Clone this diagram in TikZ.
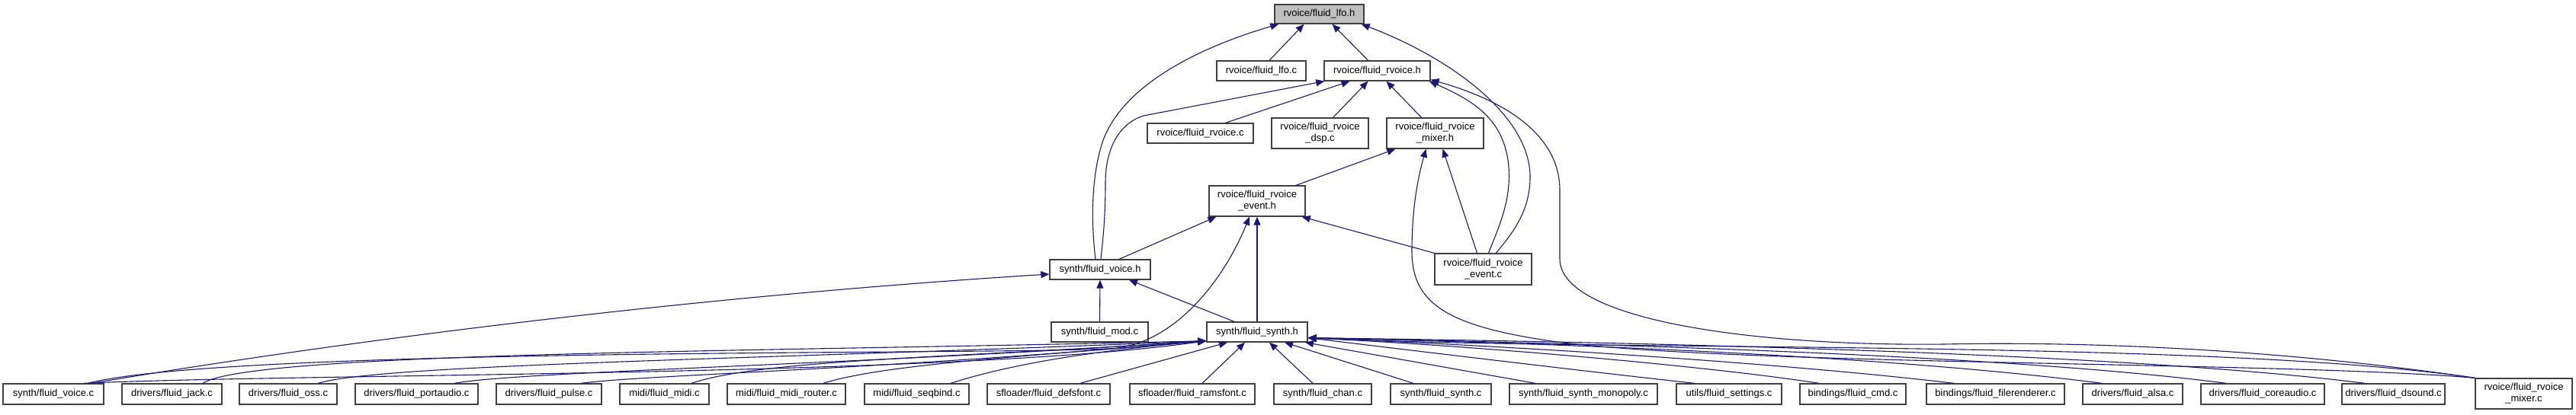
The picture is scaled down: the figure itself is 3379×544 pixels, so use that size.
\documentclass[tikz,border=0pt]{standalone}
\usepackage{fontspec}
\setmainfont{Liberation Sans}
\usetikzlibrary{arrows.meta}
\definecolor{edgeblue}{RGB}{25,25,112}
\definecolor{boxline}{RGB}{64,64,64}
\definecolor{lfogray}{RGB}{191,191,191}
\begin{document}
\begin{tikzpicture}[x=1pt,y=-1pt,
  box/.style={draw=boxline, line width=1.3pt, fill=white, inner sep=0pt, align=center,
    font=\fontsize{13}{15}\selectfont},
  bot/.style={box, minimum height=27pt},
  edge/.style={draw=edgeblue, line width=1.1pt, -{Triangle[length=11pt,width=9pt]}}]
\useasboundingbox (0,0) rectangle (3379,544);

% ---------- nodes ----------
\node[box, fill=lfogray, minimum width=117pt, minimum height=25pt] (lfoh) at (1730.5,18.5) {rvoice/fluid\_lfo.h};
\node[box, minimum width=117pt, minimum height=26pt] (lfoc) at (1654.5,93) {rvoice/fluid\_lfo.c};
\node[box, minimum width=139pt, minimum height=26pt] (rvoiceh) at (1806.5,93) {rvoice/fluid\_rvoice.h};
\node[box, minimum width=139pt, minimum height=26pt] (rvoicec) at (1574.5,175) {rvoice/fluid\_rvoice.c};
\node[box, minimum width=127pt, minimum height=40pt] (dspc) at (1731.5,175) {rvoice/fluid\_rvoice\\\_dsp.c};
\node[box, minimum width=127pt, minimum height=40pt] (mixerh) at (1882.5,175) {rvoice/fluid\_rvoice\\\_mixer.h};
\node[box, minimum width=126pt, minimum height=40pt] (eventh) at (1649,264) {rvoice/fluid\_rvoice\\\_event.h};
\node[box, minimum width=132pt, minimum height=26pt] (voiceh) at (1443,354) {synth/fluid\_voice.h};
\node[box, minimum width=127pt, minimum height=41pt] (eventc) at (1945.5,353.5) {rvoice/fluid\_rvoice\\\_event.c};
\node[box, minimum width=127pt, minimum height=26pt] (modc) at (1442.5,436) {synth/fluid\_mod.c};
\node[box, minimum width=132pt, minimum height=26pt] (synthh) at (1649,436) {synth/fluid\_synth.h};

\node[bot, minimum width=132pt] (voicec) at (70,517.5) {synth/fluid\_voice.c};
\node[bot, minimum width=131pt] (jackc) at (225.5,517.5) {drivers/fluid\_jack.c};
\node[bot, minimum width=128pt] (ossc) at (378,517.5) {drivers/fluid\_oss.c};
\node[bot, minimum width=161pt] (portaudioc) at (546.5,517.5) {drivers/fluid\_portaudio.c};
\node[bot, minimum width=138pt] (pulsec) at (720,517.5) {drivers/fluid\_pulse.c};
\node[bot, minimum width=117pt] (midic) at (871.5,517.5) {midi/fluid\_midi.c};
\node[bot, minimum width=155pt] (routerc) at (1031.5,517.5) {midi/fluid\_midi\_router.c};
\node[bot, minimum width=137pt] (seqbindc) at (1202.5,517.5) {midi/fluid\_seqbind.c};
\node[bot, minimum width=161pt] (defsfontc) at (1375.5,517.5) {sfloader/fluid\_defsfont.c};
\node[bot, minimum width=164pt] (ramsfontc) at (1564,517.5) {sfloader/fluid\_ramsfont.c};
\node[bot, minimum width=128pt] (chanc) at (1735,517.5) {synth/fluid\_chan.c};
\node[bot, minimum width=132pt] (synthc) at (1890,517.5) {synth/fluid\_synth.c};
\node[bot, minimum width=194pt] (monopolyc) at (2077,517.5) {synth/fluid\_synth\_monopoly.c};
\node[bot, minimum width=138pt] (settingsc) at (2268,517.5) {utils/fluid\_settings.c};
\node[bot, minimum width=139pt] (cmdc) at (2430.5,517.5) {bindings/fluid\_cmd.c};
\node[bot, minimum width=181pt] (filerendererc) at (2617.5,517.5) {bindings/fluid\_filerenderer.c};
\node[bot, minimum width=131pt] (alsac) at (2797.5,517.5) {drivers/fluid\_alsa.c};
\node[bot, minimum width=162pt] (coreaudioc) at (2968,517.5) {drivers/fluid\_coreaudio.c};
\node[bot, minimum width=135pt] (dsoundc) at (3139.5,517.5) {drivers/fluid\_dsound.c};
\node[box, minimum width=127pt, minimum height=40pt] (mixerc) at (3310.5,517) {rvoice/fluid\_rvoice\\\_mixer.c};

% ---------- edges ----------
% into lfo.h
\draw[edge] ([xshift=10.5pt]lfoc.north) -- ([xshift=-20pt]lfoh.south);
\draw[edge] ([xshift=-12pt]rvoiceh.north) -- ([xshift=17pt]lfoh.south);
\draw[edge] ([xshift=-6pt]voiceh.north) .. controls (1432,300) and (1430,240) .. (1445,190)
  .. controls (1470,110) and (1580,60) .. ([xshift=6pt]lfoh.south west);
\draw[edge] ([xshift=17pt]eventc.north) .. controls (1980,310) and (2008,280) .. (2007,230)
  .. controls (2005,150) and (1900,75) .. ([xshift=-4pt]lfoh.south east);

% into rvoice.h
\draw[edge] ([xshift=33pt]rvoicec.north) -- ([xshift=-36pt]rvoiceh.south);
\draw[edge] ([xshift=17pt]dspc.north) -- ([xshift=-12pt]rvoiceh.south);
\draw[edge] ([xshift=-18pt]mixerh.north) -- ([xshift=12pt]rvoiceh.south);
\draw[edge] ([xshift=1pt]voiceh.north) .. controls (1446,320) and (1450,290) .. (1450,240)
  .. controls (1450,195) and (1468,162) .. (1500,152) -- ([xshift=1pt]rvoiceh.south west);
\draw[edge] ([xshift=7pt]eventc.north) .. controls (1965,300) and (1985,260) .. (1978,210)
  .. controls (1970,160) and (1940,135) .. ([xshift=-2pt]rvoiceh.south east);
\draw[edge] (mixerc.north west) .. controls (3000,460) and (2750,448) .. (2550,452)
  .. controls (2300,455) and (2046,420) .. (2046,340) -- (2046,250)
  .. controls (2046,170) and (1960,128) .. ([yshift=2pt]rvoiceh.south east);

% into rvoice_mixer.h
\draw[edge] ([xshift=51pt]eventh.north) -- ([xshift=12pt]mixerh.south west);
\draw[edge] ([xshift=-8pt]eventc.north) -- ([xshift=10pt]mixerh.south);
\draw[edge] (mixerc.north west) .. controls (3000,475) and (2300,480) .. (2050,450)
  .. controls (1900,430) and (1852,400) .. (1852,330)
  .. controls (1852,280) and (1858,240) .. ([xshift=-12pt]mixerh.south);

% into rvoice_event.h
\draw[edge] ([xshift=25pt]voiceh.north) -- ([xshift=10pt]eventh.south west);
\draw[edge] (synthh.north) -- (eventh.south);
\draw[edge] ([xshift=45pt]voicec.north) .. controls (300,456) and (1300,466) .. (1450,458)
  .. controls (1530,458) and (1600,380) .. ([xshift=-10pt]eventh.south);
\draw[edge] (eventc.north west) -- ([xshift=-5pt]eventh.south east);

% into voice.h
\draw[edge] (modc.north) -- (voiceh.south);
\draw[edge] ([xshift=-30pt]synthh.north) -- ([xshift=38pt]voiceh.south);
\draw[edge] ([xshift=50pt]voicec.north) .. controls (450,448) and (900,390) .. ([yshift=-6pt]voiceh.west);

% into synth.h from the left
\coordinate (sl) at ([yshift=2pt]synthh.south west);
\draw[edge] ([xshift=40pt]voicec.north) .. controls (400,490) and (1250,495) .. (sl);
\draw[edge] ([xshift=40.5pt]jackc.north) .. controls (330,462) and (1000,462) .. (sl);
\draw[edge] ([xshift=39pt]ossc.north) .. controls (500,478) and (1000,472) .. (sl);
\draw[edge] ([xshift=49.5pt]portaudioc.north) .. controls (680,488) and (1100,480) .. (sl);
\draw[edge] ([xshift=42pt]pulsec.north) .. controls (850,492) and (1150,486) .. (sl);
\draw[edge] ([xshift=35.5pt]midic.north) .. controls (1000,472) and (1250,470) .. (sl);
\draw[edge] ([xshift=48.5pt]routerc.north) .. controls (1160,478) and (1350,468) .. (sl);
\draw[edge] ([xshift=44.5pt]seqbindc.north) .. controls (1320,480) and (1420,462) .. (sl);
% from below
\draw[edge] ([xshift=41.5pt]defsfontc.north) -- ([xshift=-39pt]synthh.south);
\draw[edge] ([xshift=13pt]ramsfontc.north) -- ([xshift=-16pt]synthh.south);
\draw[edge] ([xshift=-13pt]chanc.north) -- ([xshift=16pt]synthh.south);
\draw[edge] ([xshift=-36pt]synthc.north) -- ([xshift=36pt]synthh.south);
\draw[edge] ([xshift=-63pt]monopolyc.north) -- ([xshift=63pt]synthh.south);
% from the right
\coordinate (sr) at ([yshift=6pt]synthh.south east);
\draw[edge] ([xshift=-45pt]settingsc.north) .. controls (2100,490) and (1850,460) .. (sr);
\draw[edge] ([xshift=-44.5pt]cmdc.north) .. controls (2250,482) and (1950,455) .. (sr);
\draw[edge] ([xshift=-54.5pt]filerendererc.north) .. controls (2350,478) and (2000,455) .. (sr);
\draw[edge] ([xshift=-40.5pt]alsac.north) .. controls (2500,470) and (2100,452) .. (sr);
\draw[edge] ([xshift=-48pt]coreaudioc.north) .. controls (2650,468) and (2150,452) .. (sr);
\draw[edge] ([xshift=-37.5pt]dsoundc.north) .. controls (2800,465) and (2200,450) .. (sr);
\draw[edge] (mixerc.north west) .. controls (2900,445) and (2100,462) .. (sr);

\end{tikzpicture}
\end{document}
